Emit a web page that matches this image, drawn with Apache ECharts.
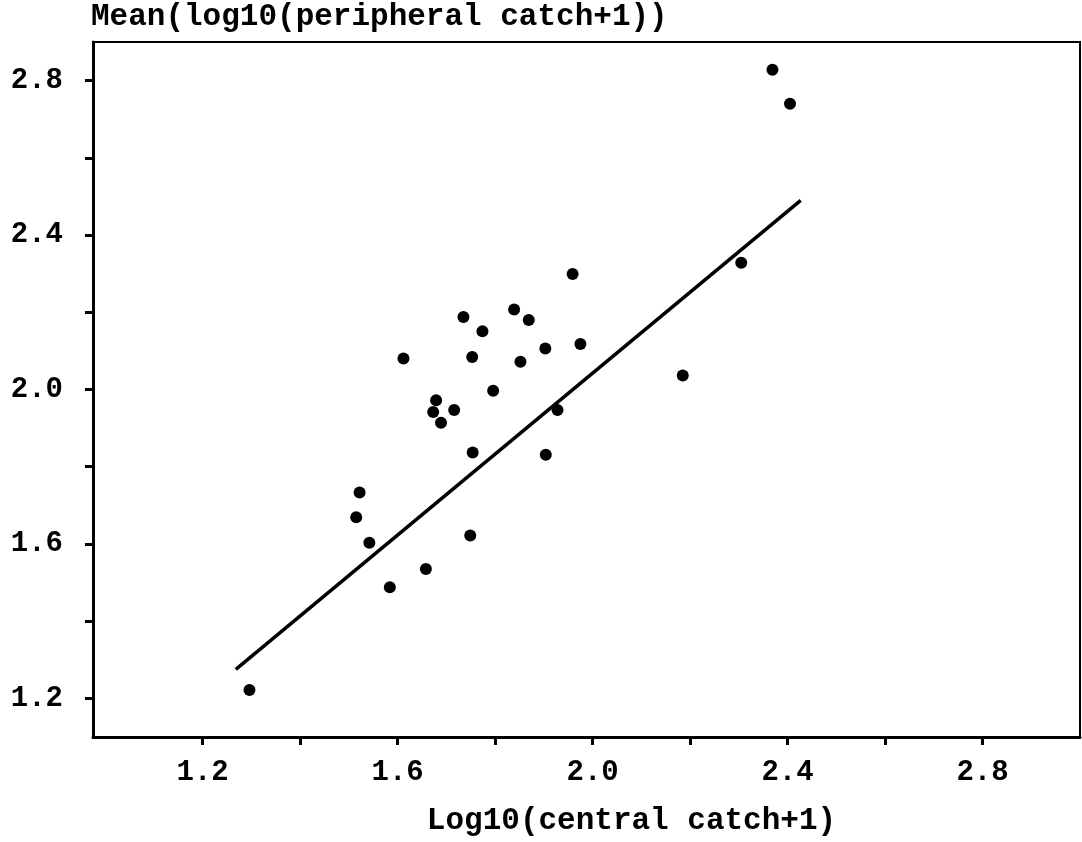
<!DOCTYPE html>
<html>
<head>
<meta charset="utf-8">
<script src="https://cdn.jsdelivr.net/npm/echarts@6/dist/echarts.min.js"></script>
<style>
html,body{margin:0;padding:0;background:#fff;}
#chart{width:1082px;height:842px;}
</style>
</head>
<body>
<div id="chart"></div>
<script>
// Data
const centralCatch = [1.296,1.515,1.522,1.542,1.584,1.612,1.658,1.673,1.679,1.689,1.716,1.735,1.749,1.753,1.754,1.774,1.796,1.839,1.852,1.869,1.903,1.904,1.928,1.959,1.975,2.185,2.305,2.369,2.405];
const peripheralMean = [1.222,1.669,1.733,1.603,1.488,2.080,1.535,1.942,1.972,1.914,1.947,2.188,1.622,2.084,1.837,2.151,1.997,2.207,2.072,2.180,2.106,1.831,1.947,2.299,2.118,2.036,2.328,2.828,2.740];
const fitX = [1.268, 2.427];
const fitY = [1.275, 2.490];
const tickValues = [1.2,1.4,1.6,1.8,2.0,2.2,2.4,2.6,2.8];
const labelValues = [1.2,1.6,2.0,2.4,2.8];
const titleText = 'Mean(log10(peripheral catch+1))';
const xName = 'Log10(central catch+1)';

const FONT = '"Liberation Mono", "DejaVu Sans Mono", monospace';
const chart = echarts.init(document.getElementById('chart'), null, {renderer:'canvas'});
const axisCommon = {
  type:'value',
  axisLine:{show:true, onZero:false, lineStyle:{color:'#000', width:3}},
  axisTick:{show:true, customValues:tickValues, length:8, lineStyle:{color:'#000', width:3}},
  axisLabel:{customValues:labelValues, formatter:v=>Number(v).toFixed(1), color:'#000',
    fontFamily:FONT, fontWeight:'bold', fontSize:29},
  splitLine:{show:false}
};
chart.setOption({
  animation:false,
  backgroundColor:'#fff',
  title:{text:titleText, left:86, top:-3,
    textStyle:{fontFamily:FONT, fontWeight:'bold', fontSize:31, color:'#000'}},
  grid:{left:93, right:2, top:42, bottom:100, show:true, borderColor:'#000', borderWidth:2, containLabel:false},
  xAxis:Object.assign({}, axisCommon, {
    min:0.975, max:3.0,
    axisLabel:Object.assign({}, axisCommon.axisLabel, {margin:21}),
    name:xName, nameLocation:'middle', nameGap:69,
    nameTextStyle:{fontFamily:FONT, fontWeight:'bold', fontSize:31, color:'#000', padding:[0,0,0,90]}
  }),
  yAxis:Object.assign({}, axisCommon, {
    min:1.1, max:2.9,
    axisLabel:Object.assign({}, axisCommon.axisLabel, {margin:30})
  }),
  series:[
    {type:'scatter', data:centralCatch.map((x,i)=>[x, peripheralMean[i]]),
     symbol:'circle', symbolSize:12, itemStyle:{color:'#000', opacity:1}},
    {type:'line', data:fitX.map((x,i)=>[x, fitY[i]]), showSymbol:false,
     lineStyle:{color:'#000', width:3.5}}
  ]
});
</script>
</body>
</html>
